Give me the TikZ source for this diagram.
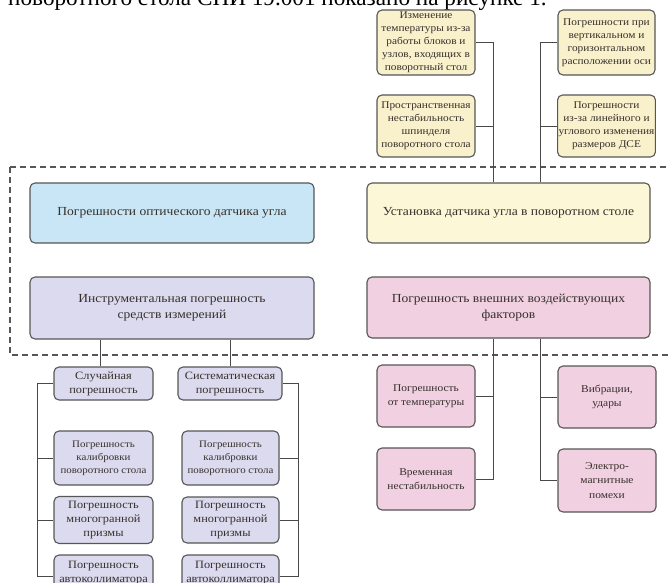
\documentclass[tikz,border=0pt]{standalone}
\usepackage{fontspec}
\setmainfont[FakeStretch=1.1]{Liberation Serif}
\newfontfamily\capfont{Liberation Serif}
\begin{document}
\definecolor{edge}{HTML}{565656}
\definecolor{ink}{HTML}{37302C}
\definecolor{cream}{HTML}{F9F1CB}
\definecolor{paleyellow}{HTML}{FCF7D6}
\definecolor{paleblue}{HTML}{C8E6F6}
\definecolor{lavender}{HTML}{DCDAEE}
\definecolor{palepink}{HTML}{F1D0E1}
\begin{tikzpicture}[x=1pt,y=-1pt,
  box/.style={draw=edge, line width=1.1pt, rounded corners=5pt, align=center,
    inner sep=1pt, text=ink},
  small/.style={font=\fontsize{10.3}{13}\selectfont},
  calib/.style={font=\fontsize{9.9}{13}\selectfont},
  mid/.style={font=\fontsize{11.2}{14}\selectfont},
  pinksub/.style={font=\fontsize{10.4}{14.5}\selectfont},
  big/.style={font=\fontsize{12.3}{16}\selectfont},
  conn/.style={draw=edge!85!black, line width=1pt},
  group/.style={draw=edge, line width=1.1pt, dash pattern=on 6pt off 4pt}]
\useasboundingbox (0,0) rectangle (670,582);

% cut-off caption line above the figure
\node[anchor=base west, inner sep=0pt, font=\capfont\fontsize{23.2}{24}\selectfont] (cap)
  at (8,5) {поворотного стола СПИ 19.001 показано на рисунке 1.};

% dashed group frame
\draw[group] (10,167) rectangle (690,355);

% upper sources of the mounting error
\node[box, small, fill=cream, minimum width=98, minimum height=65] (a1) at (426,42.5)
  {Изменение\\температуры из-за\\работы блоков и\\узлов, входящих в\\поворотный стол};
\node[box, small, fill=cream, minimum width=98, minimum height=62] (a2) at (426,126)
  {Пространственная\\нестабильность\\шпинделя\\поворотного стола};
\node[box, small, fill=cream, minimum width=97, minimum height=65] (b1) at (606.5,42.5)
  {Погрешности при\\вертикальном и\\горизонтальном\\расположении оси};
\node[box, small, fill=cream, minimum width=97, minimum height=62] (b2) at (606.5,126)
  {Погрешности\\из-за линейного и\\углового изменения\\размеров ДСЕ};

% main groups
\node[box, big, fill=paleblue, minimum width=284, minimum height=60] (opt) at (172,213)
  {Погрешности оптического датчика угла};
\node[box, big, fill=paleyellow, minimum width=283, minimum height=60] (inst) at (508.5,213)
  {Установка датчика угла в поворотном столе};
\node[box, big, fill=lavender, minimum width=284, minimum height=62] (tool) at (172,308)
  {Инструментальная погрешность\\средств измерений};
\node[box, big, fill=palepink, minimum width=283, minimum height=61] (ext) at (508.5,307.5)
  {Погрешность внешних воздействующих\\факторов};

% instrumental error branches
\node[box, mid, fill=lavender, minimum width=99, minimum height=33] (rnd) at (103.5,383.5)
  {Случайная\\погрешность};
\node[box, mid, fill=lavender, minimum width=104, minimum height=33] (sys) at (230,383.5)
  {Систематическая\\погрешность};
\node[box, calib, fill=lavender, minimum width=99, minimum height=54] (rcal) at (103.5,458)
  {Погрешность\\калибровки\\поворотного стола};
\node[box, mid, fill=lavender, minimum width=99, minimum height=47] (rpr) at (103.5,520)
  {Погрешность\\многогранной\\призмы};
\node[box, mid, fill=lavender, minimum width=99, minimum height=36] (rac) at (103.5,573)
  {Погрешность\\автоколлиматора};
\node[box, calib, fill=lavender, minimum width=97, minimum height=54] (scal) at (230.5,458)
  {Погрешность\\калибровки\\поворотного стола};
\node[box, mid, fill=lavender, minimum width=97, minimum height=46] (spr) at (230.5,520)
  {Погрешность\\многогранной\\призмы};
\node[box, mid, fill=lavender, minimum width=97, minimum height=36] (sac) at (230.5,573)
  {Погрешность\\автоколлиматора};

% external factor branches
\node[box, pinksub, fill=palepink, minimum width=98, minimum height=62] (temp) at (426,396)
  {Погрешность\\от температуры};
\node[box, pinksub, fill=palepink, minimum width=98, minimum height=62] (drift) at (426,479)
  {Временная\\нестабильность};
\node[box, pinksub, fill=palepink, minimum width=98, minimum height=62] (vib) at (607,397)
  {Вибрации,\\удары};
\node[box, pinksub, fill=palepink, minimum width=98, minimum height=63] (emi) at (607,480.5)
  {Электро-\\магнитные\\помехи};

% bus lines
\coordinate (lbus) at (493,0);
\coordinate (rbus) at (540,0);
\coordinate (lbr) at (37,0);
\coordinate (rbr) at (298,0);
\coordinate (rdrop) at (100,0);

% connectors: upper sources to mounting box
\draw[conn] (a1.east) -| (inst.north -| lbus);
\draw[conn] (a2.east) -- (a2.east -| lbus);
\draw[conn] (b1.west) -| (inst.north -| rbus);
\draw[conn] (b2.west) -- (b2.west -| rbus);

% connectors: external factors
\draw[conn] (ext.south -| lbus) |- (drift.east);
\draw[conn] (temp.east) -- (temp.east -| lbus);
\draw[conn] (ext.south -| rbus) |- (emi.west);
\draw[conn] (vib.west) -- (vib.west -| rbus);

% connectors: instrumental error
\draw[conn] (tool.south -| rdrop) -- (rnd.north -| rdrop);
\draw[conn] (tool.south -| sys.north) -- (sys.north);
\draw[conn] (rnd.west) -| ([yshift=-3pt]rac.west -| lbr) -- ([yshift=-3pt]rac.west);
\draw[conn] (rcal.west -| lbr) -- (rcal.west);
\draw[conn] (rpr.west -| lbr) -- (rpr.west);
\draw[conn] (sys.east) -| ([yshift=-3pt]sac.east -| rbr) -- ([yshift=-3pt]sac.east);
\draw[conn] (scal.east) -- (scal.east -| rbr);
\draw[conn] (spr.east) -- (spr.east -| rbr);
\end{tikzpicture}
\end{document}
